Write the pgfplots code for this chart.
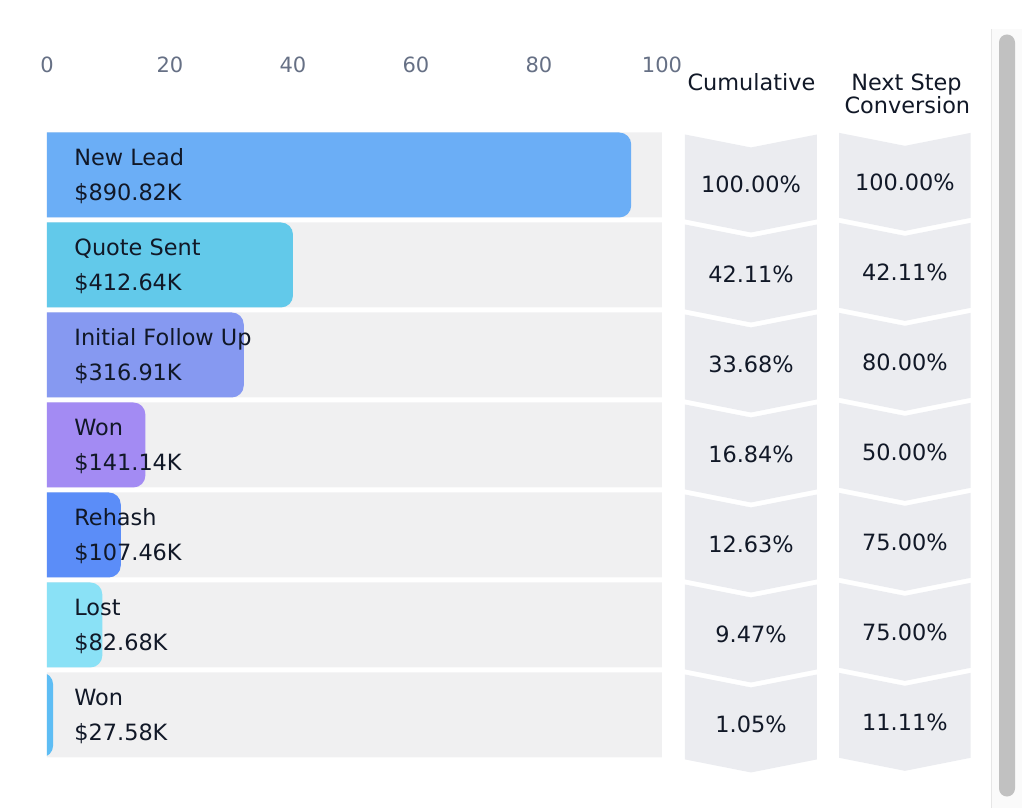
\documentclass[border=0pt]{standalone}
\usepackage{fontspec}
\setmainfont{DejaVu Sans}
\usepackage{pgfplots}
\usepackage{pgfplotstable}
\pgfplotsset{compat=1.18}
\definecolor{bg}{HTML}{F0F0F1}
\definecolor{chev}{HTML}{EBECF0}
\definecolor{txt}{HTML}{111827}
\definecolor{tickc}{HTML}{667085}
\definecolor{trk}{HTML}{FAFAFA}
\definecolor{trkline}{HTML}{E6E6E6}
\definecolor{thumb}{HTML}{C1C1C1}
\definecolor{cA}{HTML}{6BAEF6}
\definecolor{cB}{HTML}{62C9EA}
\definecolor{cC}{HTML}{8699F1}
\definecolor{cD}{HTML}{A38BF3}
\definecolor{cE}{HTML}{5B8DF8}
\definecolor{cF}{HTML}{8AE1F6}
\definecolor{cG}{HTML}{5EBDF4}
\pgfplotstableread{
x y
103.74 0.45
114.47 0.306
125.2 0.45
125.2 -0.494
114.47 -0.639
103.74 -0.494
}\chevA
\pgfplotstableread{
x y
128.8 0.468
139.5 0.324
150.2 0.468
150.2 -0.476
139.5 -0.621
128.8 -0.476
}\chevB
\newcommand{\tfont}{\fontsize{11.2}{13}\selectfont}
\begin{document}
\begin{tikzpicture}
\pgfplotsset{base/.style={scale only axis, width=307.5pt, height=315pt,
  xmin=0, xmax=100, ymin=-6.5, ymax=0.5, at={(0,0)}, anchor=south west}}
% ---------- bars ----------
\begin{axis}[base, clip=true,
  axis line style={draw=none}, major tick length=0pt, ytick=\empty,
  xtick={0,20,...,100}, xticklabel pos=upper,
  /pgf/number format/assume math mode=true,
  xticklabel style={font=\fontsize{10.5}{12}\selectfont, text=tickc, anchor=base, yshift=28.75pt}]
\addplot[xbar, bar width=0.944, fill=bg, draw=none]
  coordinates {(100,0) (100,-1) (100,-2) (100,-3) (100,-4) (100,-5) (100,-6)};
\addplot[fill=cA, draw=none, rounded corners=6pt] coordinates {(-5,-0.472) (95,-0.472) (95,0.472) (-5,0.472)} -- cycle;
\addplot[fill=cB, draw=none, rounded corners=6pt] coordinates {(-5,-1.472) (40,-1.472) (40,-0.528) (-5,-0.528)} -- cycle;
\addplot[fill=cC, draw=none, rounded corners=6pt] coordinates {(-5,-2.472) (32,-2.472) (32,-1.528) (-5,-1.528)} -- cycle;
\addplot[fill=cD, draw=none, rounded corners=6pt] coordinates {(-5,-3.472) (16,-3.472) (16,-2.528) (-5,-2.528)} -- cycle;
\addplot[fill=cE, draw=none, rounded corners=6pt] coordinates {(-5,-4.472) (12,-4.472) (12,-3.528) (-5,-3.528)} -- cycle;
\addplot[fill=cF, draw=none, rounded corners=6pt] coordinates {(-5,-5.472) (9,-5.472) (9,-4.528) (-5,-4.528)} -- cycle;
\addplot[fill=cG, draw=none, rounded corners=6pt] coordinates {(-5,-6.472) (1,-6.472) (1,-5.528) (-5,-5.528)} -- cycle;
\end{axis}
% ---------- chevrons, labels, scrollbar ----------
\begin{axis}[base, hide axis, clip=false]
\pgfplotsinvokeforeach{0,...,6}{
  \addplot[fill=chev, draw=none] table[x=x, y expr=\thisrow{y}-#1] {\chevA} -- cycle;
  \addplot[fill=chev, draw=none] table[x=x, y expr=\thisrow{y}-#1] {\chevB} -- cycle;
}
% scrollbar
\addplot[fill=trk, draw=none] coordinates {(153.5,1.617) (158.54,1.617) (158.54,-7.0333) (153.5,-7.0333)} -- cycle;
\addplot[draw=trkline, line width=0.5pt] coordinates {(153.5,1.617) (153.5,-7.0333)};
\addplot[fill=thumb, draw=none, rounded corners=4pt] coordinates {(154.8,-2.5) (154.8,1.561) (157.4,1.561) (157.4,-6.906) (154.8,-6.906)} -- cycle;
% headers
\node[anchor=base, font=\tfont, text=txt] at (axis cs:114.55,0.939) {Cumulative};
\node[anchor=base, font=\tfont, text=txt] at (axis cs:139.75,0.939) {Next Step};
\node[anchor=base, font=\tfont, text=txt] at (axis cs:139.9,0.683) {Conversion};
% bar labels
\tikzset{lbl/.style={anchor=base west, inner sep=0pt, font=\tfont, text=txt}}
\node[lbl] at (axis cs:4.39,0.106) {New Lead};
\node[lbl] at (axis cs:4.39,-0.283) {\$890.82K};
\node[lbl] at (axis cs:4.39,-0.894) {Quote Sent};
\node[lbl] at (axis cs:4.39,-1.283) {\$412.64K};
\node[lbl] at (axis cs:4.39,-1.894) {Initial Follow Up};
\node[lbl] at (axis cs:4.39,-2.283) {\$316.91K};
\node[lbl] at (axis cs:4.39,-2.894) {Won};
\node[lbl] at (axis cs:4.39,-3.283) {\$141.14K};
\node[lbl] at (axis cs:4.39,-3.894) {Rehash};
\node[lbl] at (axis cs:4.39,-4.283) {\$107.46K};
\node[lbl] at (axis cs:4.39,-4.894) {Lost};
\node[lbl] at (axis cs:4.39,-5.283) {\$82.68K};
\node[lbl] at (axis cs:4.39,-5.894) {Won};
\node[lbl] at (axis cs:4.39,-6.283) {\$27.58K};
% cumulative
\node[anchor=base, font=\tfont, text=txt] at (axis cs:114.47,-0.194) {100.00\%};
\node[anchor=base, font=\tfont, text=txt] at (axis cs:114.47,-1.194) {42.11\%};
\node[anchor=base, font=\tfont, text=txt] at (axis cs:114.47,-2.194) {33.68\%};
\node[anchor=base, font=\tfont, text=txt] at (axis cs:114.47,-3.194) {16.84\%};
\node[anchor=base, font=\tfont, text=txt] at (axis cs:114.47,-4.194) {12.63\%};
\node[anchor=base, font=\tfont, text=txt] at (axis cs:114.47,-5.194) {9.47\%};
\node[anchor=base, font=\tfont, text=txt] at (axis cs:114.47,-6.194) {1.05\%};
% next step conversion
\node[anchor=base, font=\tfont, text=txt] at (axis cs:139.5,-0.172) {100.00\%};
\node[anchor=base, font=\tfont, text=txt] at (axis cs:139.5,-1.172) {42.11\%};
\node[anchor=base, font=\tfont, text=txt] at (axis cs:139.5,-2.172) {80.00\%};
\node[anchor=base, font=\tfont, text=txt] at (axis cs:139.5,-3.172) {50.00\%};
\node[anchor=base, font=\tfont, text=txt] at (axis cs:139.5,-4.172) {75.00\%};
\node[anchor=base, font=\tfont, text=txt] at (axis cs:139.5,-5.172) {75.00\%};
\node[anchor=base, font=\tfont, text=txt] at (axis cs:139.5,-6.172) {11.11\%};
% page extent
\path (axis cs:-7.642,1.9444) rectangle (axis cs:158.54,-7.0333);
\end{axis}
\end{tikzpicture}
\end{document}
